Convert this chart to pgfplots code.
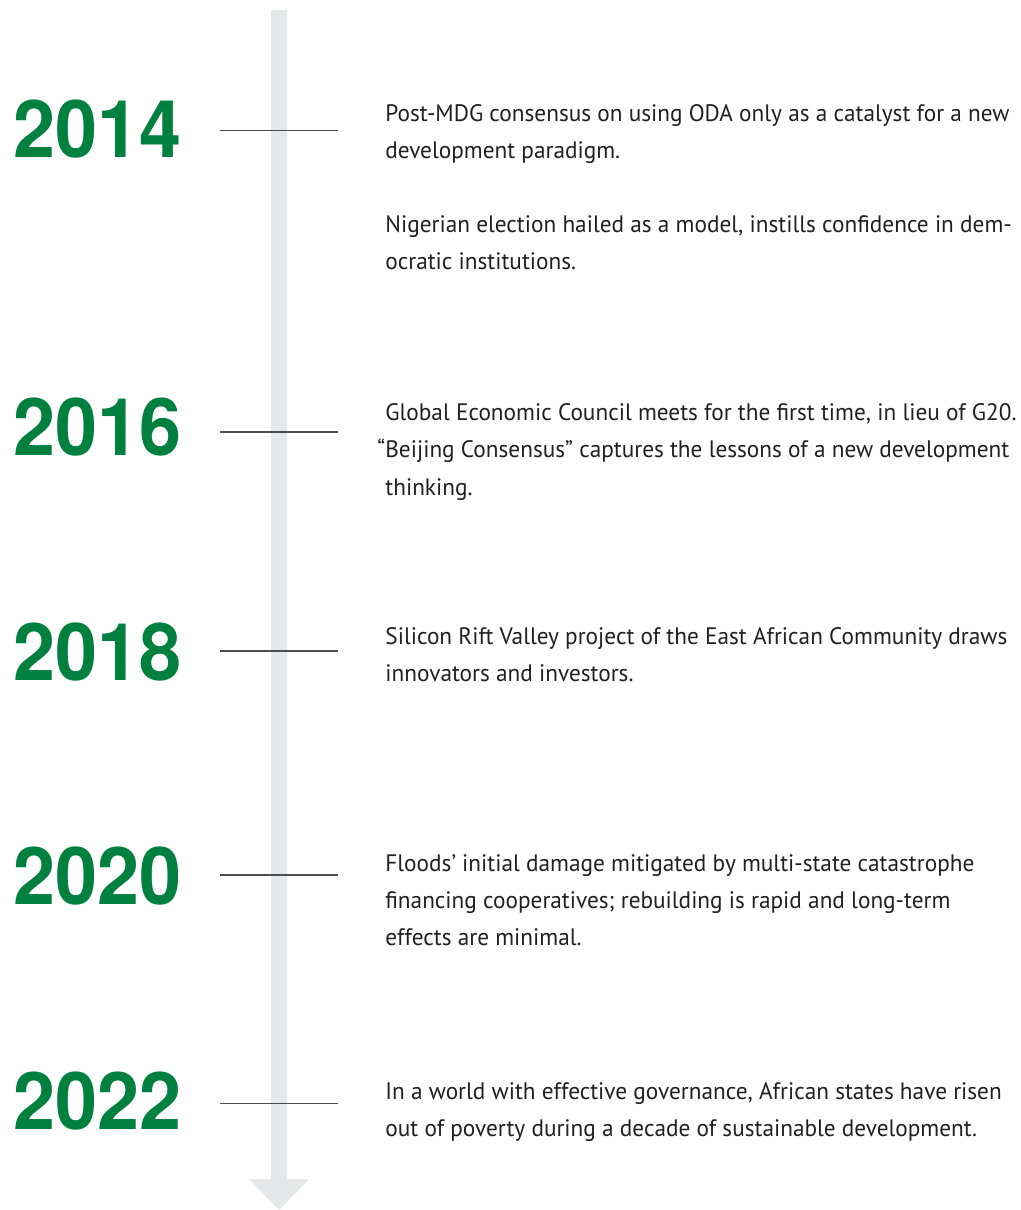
\documentclass[border=0pt]{standalone}
\usepackage{pgfplots}
\pgfplotsset{compat=1.18}
\usepackage{fontspec}
\setmainfont{PT Sans}
\newfontfamily\yearfont[FakeStretch=0.95]{TeX Gyre Heros}
\newfontfamily\descfont[FakeStretch=0.978]{PT Sans}
\definecolor{yeargreen}{HTML}{00803F}
\definecolor{bargray}{HTML}{E6E7E8}
\definecolor{linegray}{HTML}{4D4D4D}
\definecolor{txt}{HTML}{231F20}
\begin{document}
\begin{tikzpicture}[
  yr/.style={anchor=base west, inner sep=0pt, text=yeargreen, font={\yearfont\bfseries\fontsize{39.8pt}{40pt}\selectfont}},
  ds/.style={anchor=base west, inner sep=0pt, text=txt, font={\descfont\fontsize{11.9pt}{14pt}\selectfont}},
]
\begin{axis}[
  scale only axis, width=510.5pt, height=605pt,
  xmin=0, xmax=1021, ymin=0, ymax=1210, y dir=reverse,
  hide axis, clip=false,
]
% timeline bar with arrow head
\addplot[fill=bargray, draw=none] coordinates {
 (271,10) (287,10) (287,1179) (309,1179) (279,1210) (249,1179) (271,1179)} -- cycle;
% tick lines
\addplot[draw=linegray, line width=0.75pt] coordinates {(220,130.7) (338,130.7)};
\addplot[draw=linegray, line width=0.75pt] coordinates {(220,432) (338,432)};
\addplot[draw=linegray, line width=0.75pt] coordinates {(220,651) (338,651)};
\addplot[draw=linegray, line width=0.75pt] coordinates {(220,875) (338,875)};
\addplot[draw=linegray, line width=0.75pt] coordinates {(220,1103.5) (338,1103.5)};
% years
\node[yr] at (axis cs:13,157) {2014};
\node[yr] at (axis cs:13,455) {2016};
\node[yr] at (axis cs:13,680) {2018};
\node[yr] at (axis cs:13,904) {2020};
\node[yr] at (axis cs:13,1129) {2022};
% descriptions
\node[ds] at (axis cs:385,121.7) {Post-MDG consensus on using ODA only as a catalyst for a new};
\node[ds] at (axis cs:385,158.7) {development paradigm.};
\node[ds] at (axis cs:385,232.5) {Nigerian election hailed as a model, instills confidence in dem-};
\node[ds] at (axis cs:385,269.5) {ocratic institutions.};
\node[ds] at (axis cs:385,420) {Global Economic Council meets for the first time, in lieu of G20.};
\node[ds] at (axis cs:385,457.7) {\llap{“}Beijing Consensus” captures the lessons of a new development};
\node[ds] at (axis cs:385,495) {thinking.};
\node[ds] at (axis cs:385,644) {Silicon Rift Valley project of the East African Community draws};
\node[ds] at (axis cs:385,681.5) {innovators and investors.};
\node[ds] at (axis cs:385,871.5) {Floods’ initial damage mitigated by multi-state catastrophe};
\node[ds] at (axis cs:385,908.5) {financing cooperatives; rebuilding is rapid and long-term};
\node[ds] at (axis cs:385,945.5) {effects are minimal.};
\node[ds] at (axis cs:385,1099) {In a world with effective governance, African states have risen};
\node[ds] at (axis cs:385,1136) {out of poverty during a decade of sustainable development.};
\end{axis}
\pgfresetboundingbox
\path[use as bounding box] (current axis.south west) rectangle (current axis.north east);
\end{tikzpicture}
\end{document}
